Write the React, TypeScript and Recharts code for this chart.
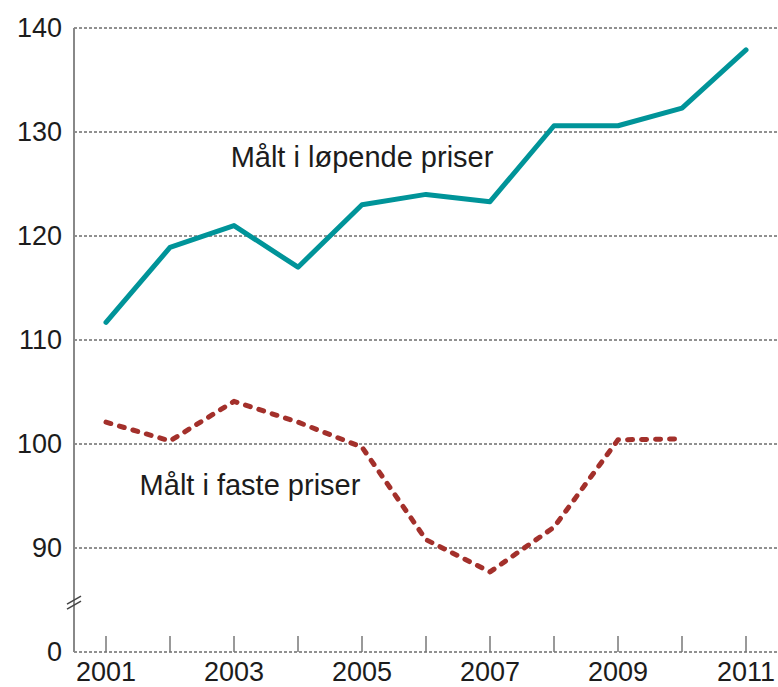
import { LineChart, Line, XAxis, YAxis, CartesianGrid, ReferenceDot } from "recharts";

const years = [2001, 2002, 2003, 2004, 2005, 2006, 2007, 2008, 2009, 2010, 2011];
const currentPrices = [111.7, 118.9, 121.0, 117.0, 123.0, 124.0, 123.3, 130.6, 130.6, 132.3, 137.9];
const fixedPrices = [102.1, 100.3, 104.1, 102.1, 99.7, 90.8, 87.7, 92.0, 100.4, 100.5, null];
const yTicks = [80, 84.8, 90, 100, 110, 120, 130, 140];
const gridValues = [90, 100, 110, 120, 130, 140];
const BREAK = 84.8;

const data = years.map((year, i) => ({
  year,
  current: currentPrices[i],
  fixed: fixedPrices[i],
}));

const FONT = "'Liberation Sans', Arial, sans-serif";
const TEXT = "#1c1c1c";

function XTick({ x, y, payload }: any) {
  const showLabel = payload.value % 2 === 1;
  return (
    <g>
      <line x1={x} x2={x} y1={y} y2={y - 16} stroke="#777" strokeWidth={1.5} />
      {showLabel && (
        <text x={x} y={y + 29} textAnchor="middle" fontSize={27} fill={TEXT} fontFamily={FONT}>
          {payload.value}
        </text>
      )}
    </g>
  );
}

function YTick({ x, y, payload }: any) {
  if (payload.value === BREAK) {
    const ax = x + 12;
    return (
      <g stroke="#444" strokeWidth={1.5}>
        <line x1={ax - 7} y1={y + 2} x2={ax + 7} y2={y - 6} />
        <line x1={ax - 7} y1={y + 7} x2={ax + 7} y2={y - 1} />
      </g>
    );
  }
  return (
    <text x={x} y={y + 9} textAnchor="end" fontSize={27} fill={TEXT} fontFamily={FONT}>
      {payload.value === 80 ? "0" : payload.value}
    </text>
  );
}

const seriesLabel = (text: string) => (p: any) => (
  <text x={p.cx} y={p.cy + 10} textAnchor="middle" fontSize={29} fill={TEXT} fontFamily={FONT}>
    {text}
  </text>
);

export default function App() {
  return (
    <div style={{ position: "absolute", left: 0, top: 0, background: "#fff" }}>
      <LineChart width={778} height={687} data={data} margin={{ top: 28, right: 0, bottom: 0, left: 0 }}>
        <CartesianGrid
          vertical={false}
          horizontalValues={gridValues}
          stroke="#222"
          strokeDasharray="3 2"
        />
        <XAxis
          dataKey="year"
          type="number"
          domain={[2000.5, 2011.5]}
          ticks={years}
          interval={0}
          height={35}
          tickSize={0}
          tickMargin={0}
          tick={<XTick />}
          axisLine={{ stroke: "#222", strokeDasharray: "3 2" }}
        />
        <YAxis
          type="number"
          domain={[80, 140]}
          ticks={yTicks}
          interval={0}
          width={74}
          tickSize={0}
          tickMargin={12}
          tick={<YTick />}
          axisLine={{ stroke: "#888", strokeWidth: 2 }}
        />
        <Line
          dataKey="current"
          stroke="#009499"
          strokeWidth={5}
          dot={false}
          strokeLinecap="round"
          strokeLinejoin="round"
          isAnimationActive={false}
        />
        <Line
          dataKey="fixed"
          stroke="#a3302b"
          strokeWidth={5}
          strokeDasharray="5 9"
          strokeLinecap="round"
          strokeLinejoin="round"
          dot={false}
          isAnimationActive={false}
        />
        <ReferenceDot x={2005} y={127.6} r={0} ifOverflow="visible" shape={seriesLabel("Målt i løpende priser")} />
        <ReferenceDot x={2003.25} y={96.1} r={0} ifOverflow="visible" shape={seriesLabel("Målt i faste priser")} />
      </LineChart>
    </div>
  );
}
